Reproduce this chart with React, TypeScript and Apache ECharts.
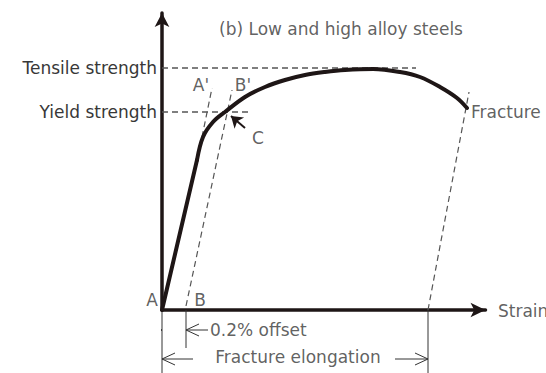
import React, { useEffect, useRef } from "react";
import * as echarts from "echarts";

// Stress–strain curve of a low / high alloy steel (strain in %, stress in arbitrary units)
// Elastic (straight) part
const elasticStrain = [0, 3.5];
const elasticStress = [0, 150];
// Plastic part, from the proportional limit up to fracture
const plasticStrain = [3.5, 4.1, 5.1, 6.3, 8.3, 10.3, 12.3, 14.3, 16.3, 18.3, 21.1, 23.8, 25.8, 27.8, 29.5, 30.5];
const plasticStress = [150, 173, 188, 198, 213, 223, 230, 235, 238, 240, 241, 238, 233, 223, 212, 202];

// Reference levels
const yieldStress = 198;
const tensileStress = 242;
const yieldLineEnd = 9.0;
const tensileLineEnd = 25.4;

// Guide lines: [strain, stress] pairs
const elasticExtension = [[4.0, 173], [5.0, 222]]; // A'
const offsetLine = [[2.4, 4], [7.0, 220]]; // B → B'
const fractureLine = [[26.6, 0], [30.7, 218]];

// Dimension marks below the strain axis
const offsetStrain = 2.4;
const fractureStrain = 26.6;
const offsetRow = -20;
const elongationRow = -49;

// Axis ranges
const strainMax = 32.35;
const stressMax = 297;

const TEXT = "#383838";
const INK = "#1e1616";
const FONT = "DejaVu Sans";
const SIZE = 17;

type Pt = [number, number];

function thin(name: string, data: Pt[], width = 1, color = "#333", dashed = false) {
  return {
    name,
    type: "line",
    data,
    showSymbol: false,
    symbol: "none",
    clip: false,
    silent: true,
    lineStyle: { color, width, type: dashed ? [6, 4] : "solid" },
    z: 2,
  };
}

// Open chevron arrowhead at (x, y); dir = +1 points right, -1 points left
function chevron(x: number, y: number, dir: number): Pt[] {
  const back = 1.3 * dir;
  return [
    [x - back, y + 6],
    [x, y],
    [x - back, y - 6],
  ];
}

function textPoint(name: string, x: number, y: number, text: string, align: string, size = SIZE) {
  return {
    name,
    type: "scatter",
    data: [[x, y]],
    symbolSize: 0,
    silent: true,
    clip: false,
    label: {
      show: true,
      position: "inside",
      formatter: text,
      color: TEXT,
      fontFamily: FONT,
      fontSize: size,
      align,
      verticalAlign: "middle",
    },
    z: 5,
  };
}

export default function App() {
  const ref = useRef<HTMLDivElement>(null);

  useEffect(() => {
    if (!ref.current) return;
    const chart = echarts.init(ref.current, null, { renderer: "svg" });

    const elastic: Pt[] = elasticStrain.map((s, i) => [s, elasticStress[i]]);
    const plastic: Pt[] = plasticStrain.map((s, i) => [s, plasticStress[i]]);
    const curveStyle = { color: INK, width: 4, cap: "round", join: "round" };

    chart.setOption({
      animation: false,
      backgroundColor: "#ffffff",
      grid: { left: 162, top: 13, width: 323.5, height: 297 },
      xAxis: {
        type: "value",
        min: 0,
        max: strainMax,
        splitLine: { show: false },
        axisTick: { show: false },
        axisLabel: { show: false },
        axisLine: {
          show: true,
          onZero: false,
          symbol: ["none", "arrow"],
          symbolSize: [11, 15],
          lineStyle: { color: INK, width: 3.5 },
        },
      },
      yAxis: {
        type: "value",
        min: 0,
        max: stressMax,
        splitLine: { show: false },
        axisTick: { show: false },
        axisLabel: {
          show: true,
          customValues: [yieldStress, tensileStress],
          formatter: (v: number) => (v === yieldStress ? "Yield strength" : "Tensile strength"),
          color: TEXT,
          fontFamily: FONT,
          fontSize: SIZE,
          margin: 5,
        },
        axisLine: {
          show: true,
          onZero: false,
          symbol: ["none", "arrow"],
          symbolSize: [11, 14],
          lineStyle: { color: INK, width: 3.5 },
        },
      },
      series: [
        // dashed reference levels and construction lines
        thin("tensile", [[0, tensileStress], [tensileLineEnd, tensileStress]], 1.3, "#555", true),
        thin("yield", [[0, yieldStress], [yieldLineEnd, yieldStress]], 1.3, "#555", true),
        thin("elastic extension", elasticExtension as Pt[], 1.2, "#555", true),
        thin("offset line", offsetLine as Pt[], 1.2, "#555", true),
        thin("fracture line", fractureLine as Pt[], 1.2, "#555", true),
        // the stress–strain curve
        {
          name: "elastic",
          type: "line",
          data: elastic,
          showSymbol: false,
          symbol: "none",
          lineStyle: curveStyle,
          z: 4,
        },
        {
          name: "plastic",
          type: "line",
          data: plastic,
          smooth: 0.35,
          showSymbol: false,
          symbol: "none",
          lineStyle: curveStyle,
          z: 4,
        },
        // arrow pointing at C
        {
          name: "C pointer",
          type: "lines",
          coordinateSystem: "cartesian2d",
          symbol: ["none", "arrow"],
          symbolSize: 11,
          silent: true,
          lineStyle: { color: INK, width: 2, opacity: 1 },
          data: [{ coords: [[8.3, 182], [6.9, 194]] }],
          z: 4,
        },
        // dimension lines below the axis
        thin("ext A", [[0, 0], [0, -63]]),
        thin("ext B", [[offsetStrain, 0], [offsetStrain, -38]]),
        thin("ext fracture", [[fractureStrain, 0], [fractureStrain, -63]]),
        thin("offset arrow left", [[-2.2, offsetRow], [0, offsetRow]]),
        thin("offset head left", chevron(0, offsetRow, 1)),
        thin("offset arrow right", [[offsetStrain, offsetRow], [4.6, offsetRow]]),
        thin("offset head right", chevron(offsetStrain, offsetRow, -1)),
        thin("elong arrow left", [[0, elongationRow], [3.1, elongationRow]]),
        thin("elong head left", chevron(0, elongationRow, -1)),
        thin("elong arrow right", [[23.3, elongationRow], [fractureStrain, elongationRow]]),
        thin("elong head right", chevron(fractureStrain, elongationRow, 1)),
        // text annotations
        textPoint("title", 17.9, 281, "(b) Low and high alloy steels", "center"),
        textPoint("A", -1.0, 10, "A", "center"),
        textPoint("B", 3.8, 10, "B", "center"),
        textPoint("A'", 3.9, 225, "A'", "center"),
        textPoint("B'", 8.1, 225, "B'", "center"),
        textPoint("C", 9.6, 172, "C", "center"),
        textPoint("Fracture", 30.9, 198, "Fracture", "left"),
        textPoint("Strain", 33.6, -1, "Strain", "left"),
        textPoint("offset", 4.8, offsetRow, "0.2% offset", "left"),
        textPoint("elongation", 13.6, elongationRow + 2, "Fracture elongation", "center"),
      ],
    });

    return () => chart.dispose();
  }, []);

  return <div ref={ref} style={{ width: 546, height: 373, position: "absolute", left: 0, top: 0 }} />;
}
